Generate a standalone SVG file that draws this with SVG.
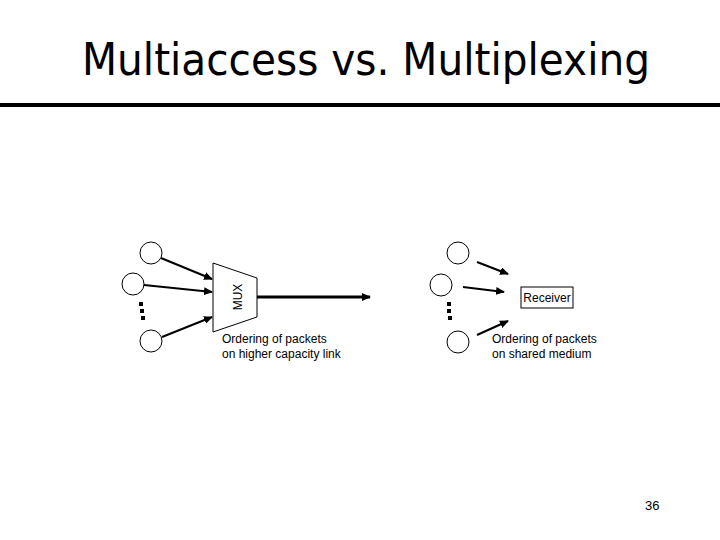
<svg xmlns="http://www.w3.org/2000/svg" width="720" height="540" viewBox="0 0 720 540">
<style>
.n{fill:#fff;stroke:#000;stroke-width:1}
.c{stroke:#000;stroke-width:2;fill:none;marker-end:url(#ah)}
.t{font-family:"Liberation Sans",Arial,sans-serif;font-size:12px;fill:#000}
.dot{fill:#000}
</style>
<defs>
<marker id="ah" markerWidth="9" markerHeight="8" refX="8" refY="4" orient="auto" markerUnits="userSpaceOnUse">
<path d="M0,0 L9,4 L0,8 z" fill="#000"/>
</marker>
</defs>
<rect width="720" height="540" fill="#fff"/>
<text x="82" y="75" font-family="'Comic Sans MS','DejaVu Sans',sans-serif" font-size="44" textLength="568" lengthAdjust="spacingAndGlyphs">Multiaccess vs. Multiplexing</text>
<rect x="0" y="103" width="720" height="4" fill="#000"/>

<g id="connectors">
<line class="c" x1="161" y1="258" x2="212" y2="279"/>
<line class="c" x1="144" y1="285" x2="212" y2="292"/>
<line class="c" x1="162" y1="337" x2="212" y2="317"/>
<line class="c" x1="257" y1="297" x2="370" y2="297" style="stroke-width:3"/>
<line class="c" x1="477" y1="262" x2="508" y2="274"/>
<line class="c" x1="463" y1="287" x2="504" y2="292"/>
<line class="c" x1="477" y1="335" x2="508" y2="321"/>
</g>

<g id="l1"><circle class="n" cx="151" cy="253" r="11"/></g>
<g id="l2"><circle class="n" cx="133" cy="284" r="11"/></g>
<g id="l3"><circle class="n" cx="151" cy="341" r="11"/></g>
<g id="ldots">
<rect class="dot" x="139" y="302" width="4" height="4"/>
<rect class="dot" x="140" y="309" width="4" height="4"/>
<rect class="dot" x="141" y="316" width="4" height="4"/>
</g>
<g id="mux">
<polygon class="n" points="213,263 257,278 257,317 213,332"/>
<text class="t" font-size="11" transform="translate(242,297) rotate(-90)" text-anchor="middle">MUX</text>
</g>
<text class="t" x="222" y="343">Ordering of packets</text>
<text class="t" x="222" y="358">on higher capacity link</text>

<g id="r1"><circle class="n" cx="458" cy="253" r="11"/></g>
<g id="r2"><circle class="n" cx="441" cy="285" r="11"/></g>
<g id="r3"><circle class="n" cx="458" cy="342" r="11"/></g>
<g id="rdots">
<rect class="dot" x="447" y="302" width="4" height="4"/>
<rect class="dot" x="447" y="309" width="4" height="4"/>
<rect class="dot" x="448" y="316" width="4" height="4"/>
</g>
<g id="receiver">
<rect class="n" x="521" y="287" width="52" height="21"/>
<text class="t" x="547" y="302" text-anchor="middle">Receiver</text>
</g>
<text class="t" x="492" y="343">Ordering of packets</text>
<text class="t" x="492" y="358">on shared medium</text>

<text x="645" y="510" font-family="'Liberation Sans',Arial,sans-serif" font-size="13">36</text>
</svg>
